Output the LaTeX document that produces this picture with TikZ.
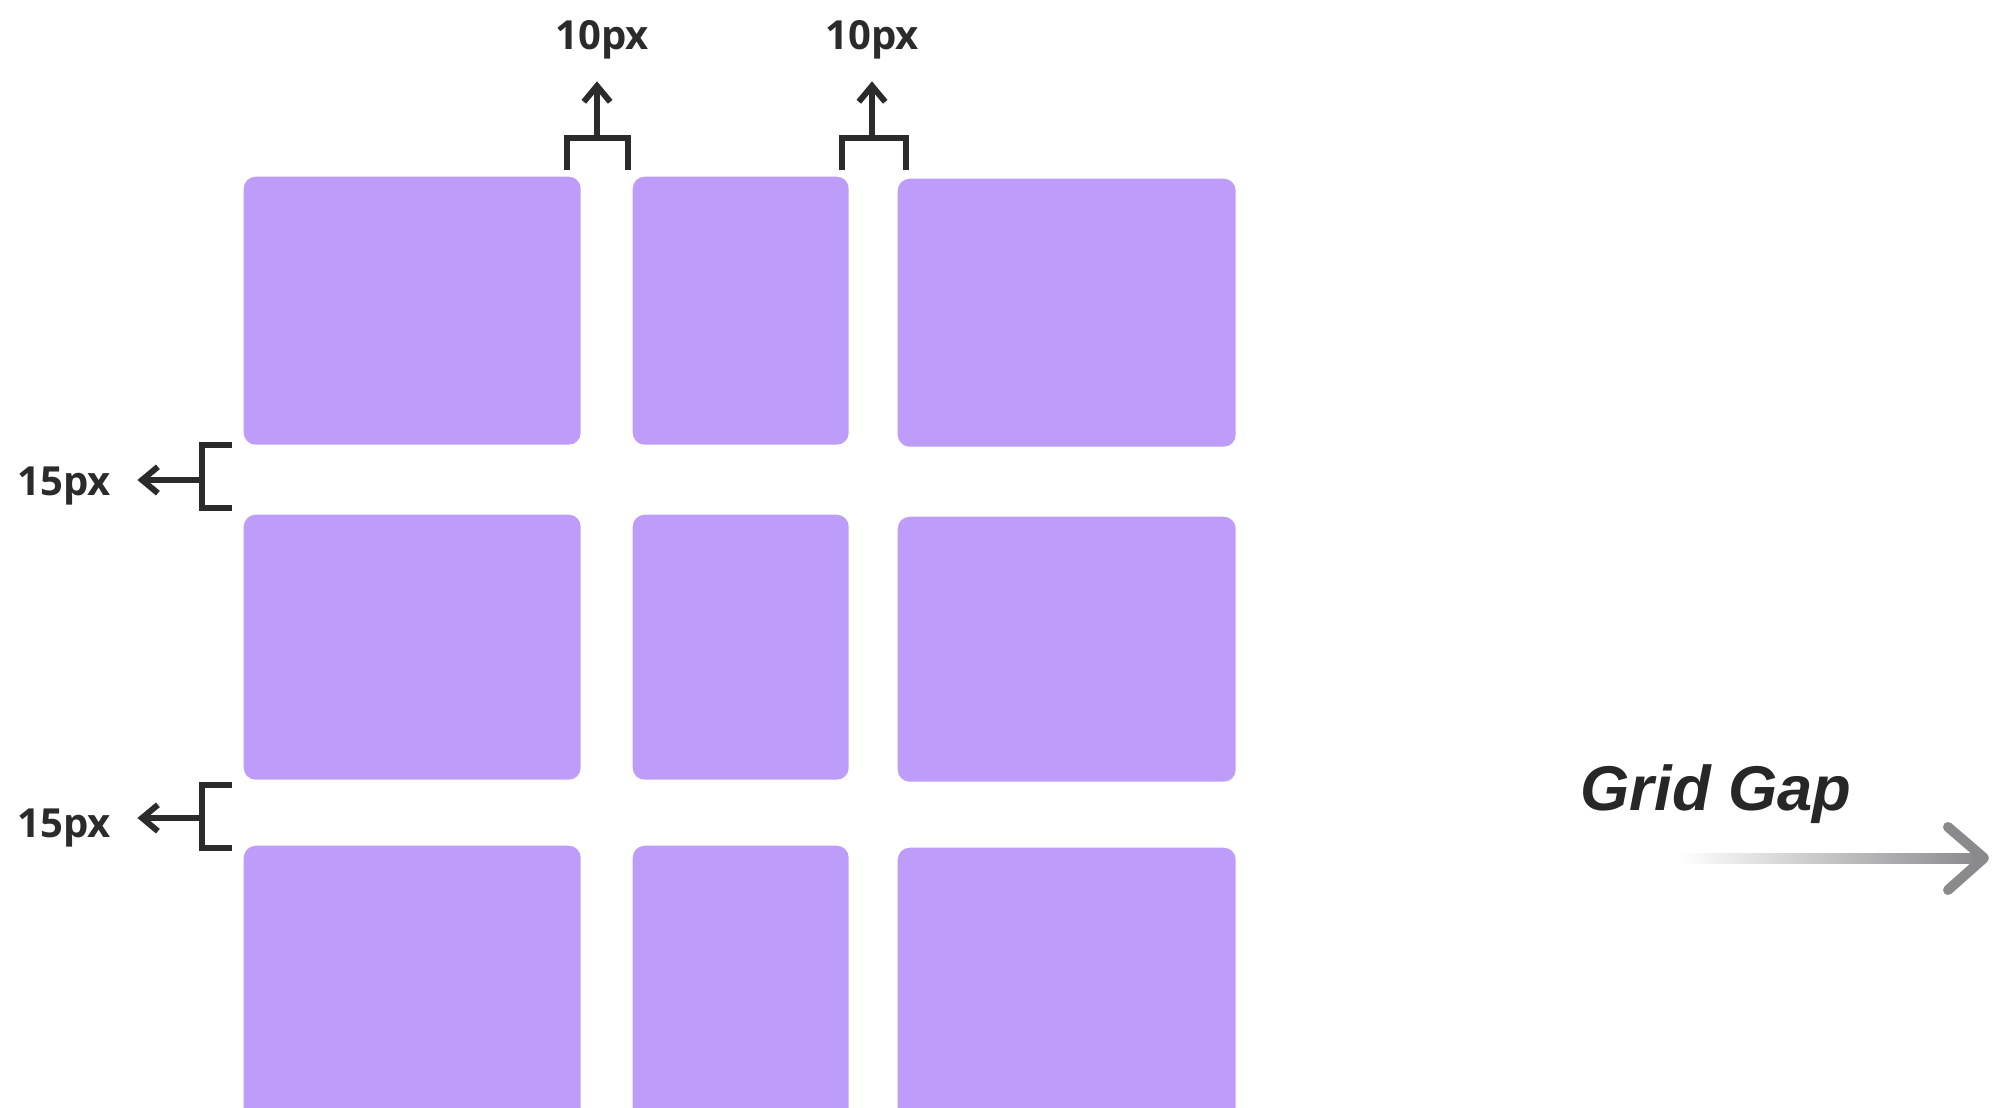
\documentclass[tikz,border=0pt]{standalone}
\usepackage{fontspec}
\usepackage{tikz}
\usepackage{xcolor}
\usetikzlibrary{arrows.meta,positioning,calc}
\setmainfont{Open Sans}
\newfontfamily\gapfont{Liberation Sans}
\definecolor{CellPurple}{RGB}{190,157,250}
\definecolor{InkDark}{RGB}{43,43,43}
\definecolor{ArrowGray}{RGB}{138,138,140}

\tikzset{
  cell/.style={fill=CellPurple, rounded corners=1.2mm, inner sep=0pt, anchor=north west},
  gaplabel/.style={font=\fontsize{11.4}{13}\selectfont\bfseries, text=InkDark, inner sep=0pt, anchor=base},
  bracket/.style={draw=InkDark, line width=1.7pt, line join=miter},
  dimarrow/.style={draw=InkDark, line width=1.7pt, -{Straight Barb[length=4.5pt,width=7.5pt,line width=1.7pt]}}
}

\begin{document}
\begin{tikzpicture}[x=0.1mm, y=-0.1mm]
\clip (0,0) rectangle (2005,1108);
\fill[white] (0,0) rectangle (2005,1108);

\node[cell, minimum width=33.7mm, minimum height=26.8mm] (r1c1) at (243,176) {};
\node[cell, minimum width=21.6mm, minimum height=26.8mm] (r1c2) at (632,176) {};
\node[cell, minimum width=33.8mm, minimum height=26.8mm] (r1c3) at (897,178) {};
\node[cell, minimum width=33.7mm, minimum height=26.5mm] (r2c1) at (243,514) {};
\node[cell, minimum width=21.6mm, minimum height=26.5mm] (r2c2) at (632,514) {};
\node[cell, minimum width=33.8mm, minimum height=26.5mm] (r2c3) at (897,516) {};
\node[cell, minimum width=33.7mm, minimum height=28mm] (r3c1) at (243,845) {};
\node[cell, minimum width=21.6mm, minimum height=28mm] (r3c2) at (632,845) {};
\node[cell, minimum width=33.8mm, minimum height=28mm] (r3c3) at (897,847) {};

\node[gaplabel] (colgapA) at (602,50) {10px};
\node[gaplabel] (colgapB) at (872,50) {10px};
\node[gaplabel] (rowgapA) at (64,495) {15px};
\node[gaplabel] (rowgapB) at (64,837) {15px};

\draw[bracket] (567,170) -- (567,138) -- (628,138) -- (628,170);
\draw[bracket] (842,170) -- (842,138) -- (906,138) -- (906,170);
\draw[bracket] (232,445) -- (202,445) -- (202,508) -- (232,508);
\draw[bracket] (232,785) -- (202,785) -- (202,848) -- (232,848);

\coordinate (stemA) at (597,138);
\coordinate (stemB) at (872,138);
\coordinate (stemC) at (202,480);
\coordinate (stemD) at (202,818);
\draw[dimarrow, shorten >=2.1mm] (stemA) -- (stemA |- colgapA.south);
\draw[dimarrow, shorten >=2.1mm] (stemB) -- (stemB |- colgapB.south);
\draw[dimarrow, shorten >=2.6mm] (stemC) -- (stemC -| rowgapA.east);
\draw[dimarrow, shorten >=2.6mm] (stemD) -- (stemD -| rowgapB.east);

\node[font=\gapfont\fontsize{18}{22}\selectfont\bfseries\itshape, text=InkDark!90!black, inner sep=0pt, anchor=base] (gridgap) at (1716,810) {Grid Gap};
\coordinate (gapTail) at (1680,858);
\coordinate (gapTip) at (1984,858);
\shade[left color=white, right color=ArrowGray] ($(gapTail)+(0,-5)$) rectangle ($(gapTip)+(-6,5)$);
\draw[ArrowGray, line width=1mm, line cap=round, line join=round] ($(gapTip)+(-36,-31)$) -- (gapTip) -- ($(gapTip)+(-36,32)$);
\end{tikzpicture}
\end{document}
